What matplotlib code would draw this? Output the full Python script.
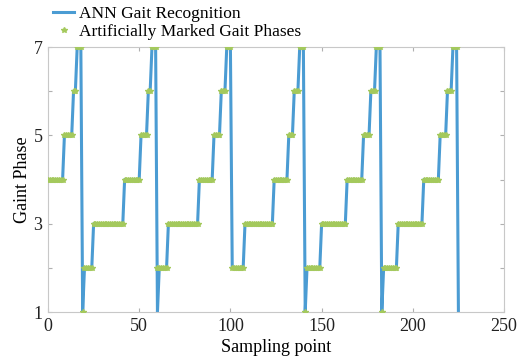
import numpy as np
from matplotlib import pyplot as plt

# run-length encoded phases: (phase, number of samples)
label_phases = [4, 5, 6, 7, 1,
                2, 3, 4, 5, 6, 7, 2,
                2, 3, 4, 5, 6, 7,
                2, 3, 4, 5, 6, 7, 1,
                2, 3, 4, 5, 6, 7, 1,
                2, 3, 4, 5, 6, 7]
label_counts = [9, 5, 2, 3, 1,
                5, 17, 9, 4, 2, 3, 1,
                5, 17, 8, 4, 3, 3,
                7, 16, 8, 3, 3, 3, 1,
                8, 14, 9, 4, 3, 3, 1,
                8, 14, 9, 4, 3, 3]

# ANN output differs from the marked phases at a couple of samples
ann_overrides = {60: 1, 225: 1}

labels = np.repeat(label_phases, label_counts)
x_label = np.arange(len(labels))

ann = list(labels)
for idx, val in ann_overrides.items():
    if idx < len(ann):
        ann[idx] = val
    else:
        ann.append(val)
ann = np.array(ann)
x_ann = np.arange(len(ann))

plt.rcParams['font.family'] = ['Liberation Serif', 'DejaVu Serif']

fig = plt.figure(figsize=(5.23, 3.6), dpi=100)
ax = fig.add_axes([0.0918, 0.1333, 0.8719, 0.7361])

ax.plot(x_ann, ann, color='#4b9cd3', linewidth=2.2, label='ANN Gait Recognition', zorder=2)
ax.plot(x_label, labels, linestyle='none', marker='*', markersize=3.8,
        color='#a4c95c', label='Artificially Marked Gait Phases', zorder=3)

ax.set_xlim(0, 250)
ax.set_ylim(1, 7)
ax.set_xticks([0, 50, 100, 150, 200, 250])
ax.set_yticks(range(1, 8))
ax.set_yticklabels(['1', '', '3', '', '5', '', '7'])
ax.tick_params(direction='in', top=True, right=True, length=3, color='#b0b0b0',
               labelsize=13, labelcolor='#222222')
ax.tick_params(axis='x', pad=4)
ax.tick_params(axis='y', pad=4)
for spine in ax.spines.values():
    spine.set_color('#c8c8c8')

ax.set_xlabel('Sampling point', fontsize=13, labelpad=3)
ax.set_ylabel('Gaint Phase', fontsize=13, labelpad=2)

ax.legend(loc='lower left', bbox_to_anchor=(0.008, 1.02), frameon=False, fontsize=12.5,
          handlelength=1.2, handletextpad=0.3, borderaxespad=0, labelspacing=0.1,
          borderpad=0.1)

fig.savefig('out.png', dpi=100)
